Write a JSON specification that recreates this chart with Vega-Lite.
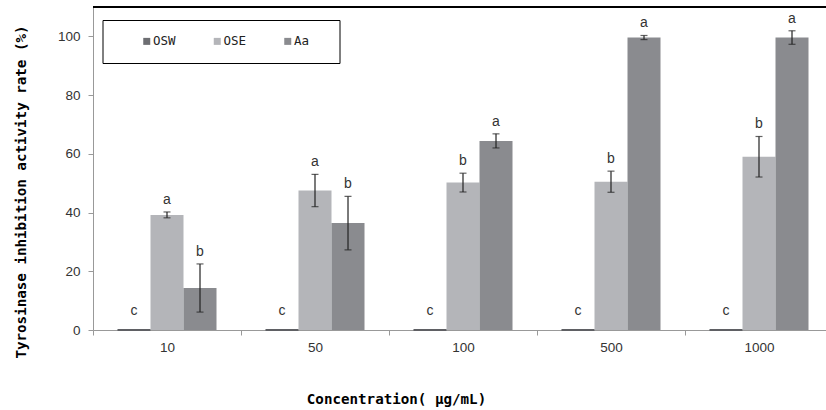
{
  "$schema": "https://vega.github.io/schema/vega-lite/v6.json",
  "width": 733,
  "height": 323,
  "autosize": {"type": "none"},
  "padding": {"left": 93, "top": 7, "right": 0, "bottom": 80},
  "background": "white",
  "config": {
    "view": {"stroke": null},
    "axis": {
      "domainColor": "#999999",
      "tickColor": "#999999",
      "tickSize": 5,
      "grid": false,
      "labelFont": "Liberation Sans",
      "labelFontSize": 13.5,
      "labelColor": "#333333",
      "titleFont": "DejaVu Sans Mono",
      "titleFontWeight": "bold",
      "titleFontSize": 14.2,
      "titleColor": "#000000"
    }
  },
  "data": {
    "values": [
      {"conc": "10", "series": "OSW", "value": 0, "err": 0, "sig": "c"},
      {"conc": "10", "series": "OSE", "value": 39.2, "err": 1.0, "sig": "a"},
      {"conc": "10", "series": "Aa", "value": 14.3, "err": 8.2, "sig": "b"},
      {"conc": "50", "series": "OSW", "value": 0, "err": 0, "sig": "c"},
      {"conc": "50", "series": "OSE", "value": 47.5, "err": 5.5, "sig": "a"},
      {"conc": "50", "series": "Aa", "value": 36.4, "err": 9.1, "sig": "b"},
      {"conc": "100", "series": "OSW", "value": 0, "err": 0, "sig": "c"},
      {"conc": "100", "series": "OSE", "value": 50.2, "err": 3.2, "sig": "b"},
      {"conc": "100", "series": "Aa", "value": 64.4, "err": 2.4, "sig": "a"},
      {"conc": "500", "series": "OSW", "value": 0, "err": 0, "sig": "c"},
      {"conc": "500", "series": "OSE", "value": 50.5, "err": 3.6, "sig": "b"},
      {"conc": "500", "series": "Aa", "value": 99.6, "err": 0.7, "sig": "a"},
      {"conc": "1000", "series": "OSW", "value": 0, "err": 0, "sig": "c"},
      {"conc": "1000", "series": "OSE", "value": 59.0, "err": 6.9, "sig": "b"},
      {"conc": "1000", "series": "Aa", "value": 99.6, "err": 2.3, "sig": "a"}
    ]
  },
  "transform": [
    {"calculate": "datum.value - datum.err", "as": "lo"},
    {"calculate": "datum.value + datum.err", "as": "hi"},
    {"calculate": "max(datum.value + datum.err, 2.4)", "as": "labpos"}
  ],
  "layer": [
    {
      "mark": {"type": "bar"},
      "encoding": {
        "x": {
          "field": "conc", "type": "nominal",
          "sort": ["10", "50", "100", "500", "1000"],
          "scale": {"paddingInner": 0, "paddingOuter": 0, "range": [0, 740]},
          "axis": {
            "labelAngle": 0,
            "tickBand": "extent",
            "labelPadding": 5,
            "title": "Concentration( μg/mL)",
            "titleX": 303,
            "titleY": 73,
            "titleBaseline": "alphabetic",
            "titleAlign": "center"
          }
        },
        "xOffset": {
          "field": "series", "type": "nominal",
          "sort": ["OSW", "OSE", "Aa"],
          "scale": {"paddingInner": 0, "paddingOuter": 0.742}
        },
        "y": {
          "field": "value", "type": "quantitative",
          "scale": {"domain": [0, 110], "nice": false},
          "axis": {
            "values": [0, 20, 40, 60, 80, 100],
            "labelPadding": 8,
            "title": "Tyrosinase inhibition activity rate (%)",
            "titleAngle": 270,
            "titleX": -68,
            "titleY": 184.5,
            "titleBaseline": "alphabetic",
            "titleAlign": "center"
          }
        },
        "color": {
          "field": "series", "type": "nominal",
          "sort": ["OSW", "OSE", "Aa"],
          "scale": {"domain": ["OSW", "OSE", "Aa"], "range": ["#6d6e72", "#b4b5b9", "#8a8b8f"]},
          "legend": {
            "orient": "none",
            "legendX": 9.5,
            "legendY": 13,
            "direction": "horizontal",
            "title": " ",
            "titleOrient": "right",
            "titlePadding": 15,
            "titleFont": "DejaVu Sans Mono",
            "titleFontSize": 12,
            "padding": 15,
            "strokeColor": "#000000",
            "fillColor": "white",
            "symbolType": "square",
            "symbolSize": 49,
            "symbolStrokeWidth": 0,
            "symbolOffset": 23,
            "labelFont": "DejaVu Sans Mono",
            "labelFontSize": 12.5,
            "labelColor": "#222222",
            "labelOffset": 0,
            "columnPadding": 11.5
          }
        }
      }
    },
    {
      "transform": [{"filter": "datum.value == 0"}],
      "mark": {"type": "bar", "stroke": "#5f6064", "strokeWidth": 2, "fill": "#5f6064"},
      "encoding": {
        "x": {"field": "conc", "type": "nominal", "sort": ["10", "50", "100", "500", "1000"]},
        "xOffset": {"field": "series", "type": "nominal", "sort": ["OSW", "OSE", "Aa"]},
        "y": {"field": "value", "type": "quantitative"}
      }
    },
    {
      "transform": [{"filter": "datum.err > 0"}],
      "mark": {"type": "rule", "color": "#222222", "strokeWidth": 1.2},
      "encoding": {
        "x": {"field": "conc", "type": "nominal", "sort": ["10", "50", "100", "500", "1000"]},
        "xOffset": {"field": "series", "type": "nominal", "sort": ["OSW", "OSE", "Aa"]},
        "y": {"field": "lo", "type": "quantitative"},
        "y2": {"field": "hi"}
      }
    },
    {
      "transform": [{"filter": "datum.err > 0"}],
      "mark": {"type": "tick", "color": "#222222", "thickness": 1.2, "size": 7},
      "encoding": {
        "x": {"field": "conc", "type": "nominal", "sort": ["10", "50", "100", "500", "1000"]},
        "xOffset": {"field": "series", "type": "nominal", "sort": ["OSW", "OSE", "Aa"]},
        "y": {"field": "lo", "type": "quantitative"}
      }
    },
    {
      "transform": [{"filter": "datum.err > 0"}],
      "mark": {"type": "tick", "color": "#222222", "thickness": 1.2, "size": 7},
      "encoding": {
        "x": {"field": "conc", "type": "nominal", "sort": ["10", "50", "100", "500", "1000"]},
        "xOffset": {"field": "series", "type": "nominal", "sort": ["OSW", "OSE", "Aa"]},
        "y": {"field": "hi", "type": "quantitative"}
      }
    },
    {
      "mark": {"type": "text", "font": "Liberation Sans", "fontSize": 14, "color": "#333333", "baseline": "alphabetic", "dy": -8},
      "encoding": {
        "x": {"field": "conc", "type": "nominal", "sort": ["10", "50", "100", "500", "1000"]},
        "xOffset": {"field": "series", "type": "nominal", "sort": ["OSW", "OSE", "Aa"]},
        "y": {"field": "labpos", "type": "quantitative"},
        "text": {"field": "sig"}
      }
    },
    {
      "mark": {"type": "rule", "color": "#000000", "strokeWidth": 1},
      "encoding": {"y": {"datum": 110}}
    }
  ]
}
